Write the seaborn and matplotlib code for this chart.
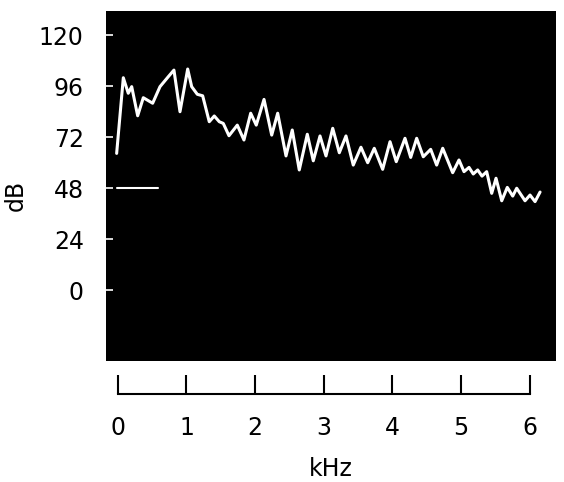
import matplotlib
matplotlib.use("Agg")
import matplotlib.pyplot as plt
import seaborn as sns
import pandas as pd

# ---- data ----
freq_khz = [-0.015, 0.082, 0.154, 0.204, 0.291, 0.373, 0.509, 0.616, 0.737, 0.819,
            0.907, 1.019, 1.077, 1.159, 1.237, 1.333, 1.406, 1.479, 1.537, 1.620,
            1.741, 1.838, 1.936, 2.017, 2.130, 2.242, 2.329, 2.450, 2.541, 2.643,
            2.760, 2.847, 2.945, 3.032, 3.130, 3.226, 3.323, 3.429, 3.541, 3.639,
            3.735, 3.857, 3.964, 4.055, 4.182, 4.265, 4.352, 4.448, 4.556, 4.643,
            4.731, 4.876, 4.968, 5.041, 5.114, 5.176, 5.240, 5.303, 5.371, 5.444,
            5.507, 5.590, 5.671, 5.750, 5.808, 5.929, 6.002, 6.075, 6.148]
level_db = [64.3, 99.9, 92.6, 95.7, 82.0, 90.5, 87.9, 95.7, 100.4, 103.5,
            83.9, 104.0, 95.7, 92.1, 91.4, 79.2, 81.9, 79.2, 78.4, 72.6,
            77.6, 70.6, 83.2, 77.6, 89.7, 72.9, 83.2, 63.1, 75.3, 56.5,
            73.3, 60.8, 72.5, 63.1, 76.1, 64.6, 72.5, 58.8, 67.2, 59.9,
            66.7, 56.8, 69.8, 60.4, 71.4, 62.4, 71.4, 62.7, 66.2, 58.8,
            66.7, 55.2, 61.2, 55.7, 57.7, 54.6, 56.5, 53.6, 55.7, 45.5,
            52.6, 42.0, 48.3, 44.2, 47.9, 42.0, 44.7, 41.6, 46.1]
ref_line_khz = [-0.01, 0.58]
ref_line_db = [48, 48]
x_ticks = [0, 1, 2, 3, 4, 5, 6]
y_ticks = [0, 24, 48, 72, 96, 120]

df = pd.DataFrame({"kHz": freq_khz, "dB": level_db})

sns.set_style("white")
plt.rcParams["font.family"] = ["DejaVu Sans"]
plt.rcParams["text.color"] = "black"
plt.rcParams["xtick.labelcolor"] = "black"
plt.rcParams["ytick.labelcolor"] = "black"
plt.rcParams["axes.labelcolor"] = "black"

fig = plt.figure(figsize=(5.64, 4.82), dpi=100)
fig.patch.set_facecolor("white")

# main black panel
ax = fig.add_axes([106 / 564, 1 - 361 / 482, 450 / 564, 350 / 482])
ax.set_facecolor("black")
for s in ax.spines.values():
    s.set_visible(False)
sns.lineplot(data=df, x="kHz", y="dB", ax=ax, color="white", linewidth=2.2,
             sort=False, estimator=None)
for ln in ax.lines:
    ln.set_solid_joinstyle("round")
ax.plot(ref_line_khz, ref_line_db, color="white", linewidth=1.5)
ax.set_xlim(-0.170, 6.380)
ax.set_ylim(-33.4, 131.3)
ax.set_xticks([])
ax.set_yticks(y_ticks)
ax.set_yticklabels([str(v) for v in y_ticks], fontsize=17, color="black")
ax.tick_params(axis="y", direction="in", length=5, width=1.2, color="white",
               pad=16, left=True, labelcolor="black")
ax.set_xlabel("")
ax.set_ylabel("dB", fontsize=17, color="black")
ax.yaxis.set_label_coords(-0.175, 0.474)

# bracket-style frequency axis below
ax2 = fig.add_axes([106 / 564, 1 - 394 / 482, 450 / 564, 0.03])
ax2.set_facecolor("none")
ax2.patch.set_alpha(0)
for name in ["top", "left", "right"]:
    ax2.spines[name].set_visible(False)
ax2.spines["bottom"].set_bounds(0, 6)
ax2.spines["bottom"].set_linewidth(1.5)
ax2.spines["bottom"].set_color("black")
ax2.set_xlim(-0.170, 6.380)
ax2.set_yticks([])
ax2.set_xticks(x_ticks)
ax2.set_xticklabels([str(v) for v in x_ticks], fontsize=17, color="black")
ax2.tick_params(axis="x", direction="in", length=14, width=1.5, color="black",
                pad=16, bottom=True, labelcolor="black")
ax2.set_xlabel("kHz", fontsize=17, labelpad=12, color="black")

fig.savefig("out.png", dpi=100, facecolor="white")
